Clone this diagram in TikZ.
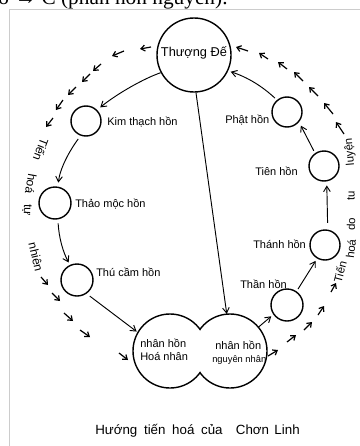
\documentclass[tikz,border=0pt]{standalone}
\usepackage{fontspec}
\setmainfont{Liberation Sans}
\newfontfamily\docserif{Liberation Serif}
\usetikzlibrary{arrows.meta}
\begin{document}
\begin{tikzpicture}[x=0.75pt,y=-0.75pt,
  hc/.style={circle,draw,line width=1.05pt,inner sep=0,minimum size=#1},
  lab/.style={font=\fontsize{8.25}{9}\selectfont,inner sep=0},
  sidel/.style={font=\fontsize{9}{10}\selectfont,inner sep=0},
  sider/.style={font=\fontsize{8.5}{10}\selectfont,inner sep=0},
  arr/.style={-{Straight Barb[length=4pt,width=5pt]},line width=0.7pt},
  sarr/.style={-{Straight Barb[length=3pt,width=4.5pt]},line width=0.9pt},
]
\useasboundingbox (0,0) rectangle (360,446);
\fill[white] (0,0) rectangle (360,446);
\draw[black!20, line width=0.6pt] (9.5,446) -- (9.5,9.5) -- (360,9.5);
\begin{scope}
  \clip (0,0) rectangle (360,8.5);
  \node[anchor=base west, inner sep=0, font=\docserif\fontsize{16}{18}\selectfont] (top) at (-2,4) {ờ → C (phần hồn nguyên).};
\end{scope}

% circles
\node[hc=55.5pt] (T) at (194,55) {};
\node[hc=22.5pt] (K) at (86,121) {};
\node[hc=24pt] (H) at (55,203) {};
\node[hc=24pt] (C) at (77,280) {};
\node[hc=24pt] (S) at (287,305) {};
\node[hc=22.5pt] (A) at (325,245) {};
\node[hc=22.5pt] (E) at (324,166) {};
\node[hc=22.5pt] (P) at (287,112) {};
\node[circle,inner sep=0,minimum size=55.5pt] (N1) at (170,351) {};
\node[circle,inner sep=0,minimum size=55.5pt] (N2) at (230,351) {};
\begin{scope}
  \clip (0,0) rectangle (200,446);
  \draw[line width=1.05pt] (N1.center) circle[radius=27.75pt];
\end{scope}
\begin{scope}
  \clip (200,0) rectangle (360,446);
  \draw[line width=1.05pt] (N2.center) circle[radius=27.75pt];
\end{scope}

% labels
\node[lab,font=\fontsize{9.6}{10}\selectfont] (tl) at (194,53) {Thượng Đế};
\node[lab,anchor=base west] (kl) at (107,125) {Kim thạch hồn};
\node[lab,anchor=base west] (hl) at (75,207) {Thảo mộc hồn};
\node[lab,anchor=base west] (cl) at (96,276) {Thú cầm hồn};
\node[lab,anchor=base west] (pl) at (225,123) {Phật hồn};
\node[lab,anchor=base west] (el) at (255,175) {Tiên hồn};
\node[lab,anchor=base west] (al) at (253,248) {Thánh hồn};
\node[lab,anchor=base west] (sl) at (240,288) {Thần hồn};
\node[lab,anchor=base west] (n1a) at (140,347) {nhân hồn};
\node[lab,anchor=base west] (n1b) at (140,360) {Hoá nhân};
\node[lab,anchor=base west] (n2a) at (215,349) {nhân hồn};
\node[lab,anchor=base west,font=\fontsize{7}{8}\selectfont] (n2b) at (212,362) {nguyên nhân};

% side texts
\node[sidel,rotate=-111] (w1) at (41,150) {Tiến};
\node[sidel,rotate=-100] (w2) at (31,184) {hoá};
\node[sidel,rotate=-92] (w3) at (27,210) {tự};
\node[sidel,rotate=-77] (w4) at (36,257) {nhiên};
\node[sider,rotate=75] (v1) at (340,272) {Tiến};
\node[sider,rotate=83] (v2) at (351,249) {hoá};
\node[sider,rotate=88] (v3) at (351,224) {do};
\node[sider,rotate=90] (v4) at (351,196) {tu};
\node[sider,rotate=95] (v5) at (350,152) {luyện};

% caption
\node[anchor=base west,inner sep=0,font=\fontsize{10}{11}\selectfont] (cap) at (95,434)
  {Hướng\hspace{5pt}tiến\hspace{5pt}hoá\hspace{5pt}của\hspace{10pt}Chơn\hspace{4pt}Linh};

% solid arrows
\draw[arr,shorten >=3pt] (T.208) .. controls (145,78) and (118,93) .. (K.45);
\draw[arr,shorten <=3pt,shorten >=3pt] (K.250) .. controls (70,150) and (60,168) .. (H.80);
\draw[arr,shorten <=3pt,shorten >=2pt] (H.280) .. controls (59,238) and (63,252) .. (C.115);
\draw[arr,shorten <=3pt,shorten >=1pt] (C.305) -- (N1.150);
\draw[arr] (T.273) -- (N2.95);
\draw[arr,shorten >=2pt] (N2.40) -- (S.215);
\draw[arr,shorten <=2pt,shorten >=2pt] (S.55) -- (A.240);
\draw[arr,shorten <=5pt,shorten >=3pt] (A.80) -- (E.280);
\draw[arr,shorten <=2pt,shorten >=3pt] (E.125) -- (P.320);
\draw[arr,shorten <=2pt,shorten >=2pt] (P.130) .. controls (262,86) and (247,77) .. (T.335);

% small dashed-like arrows along the outer path
\foreach \a/\b/\c/\d in {
  151/47/140/49, 124/51/112/56, 101/64/93/71, 90/74/82/82, 76/87/68/95,
  63/100/56/110, 53/118/46/127,
  41/277/48/285, 52/293/60/301, 64/313/73/321, 80/330/90/337, 119/353/128/360,
  268/356/278/350, 287/342/296/335, 304/330/312/322, 318/315/324/306, 331/292/336/283,
  344/134/336/122, 333/114/324/103, 318/96/309/87, 303/81/294/72, 287/69/278/62,
  268/59/259/53, 248/51/236/47}
  \draw[sarr] (\a,\b) -- (\c,\d);
\end{tikzpicture}
\end{document}
